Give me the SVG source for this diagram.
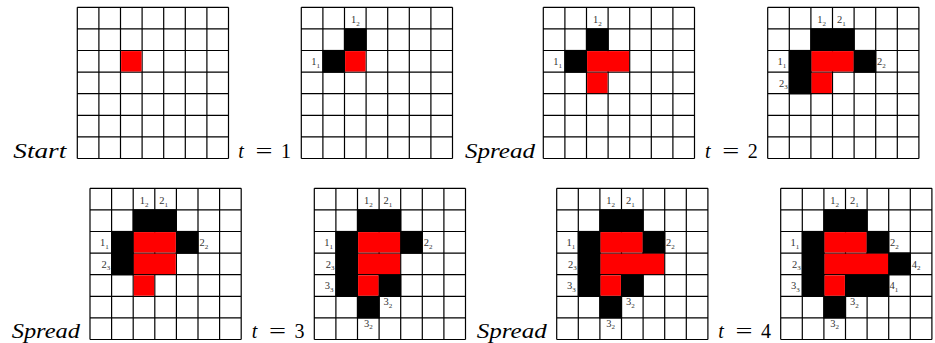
<svg xmlns="http://www.w3.org/2000/svg" xmlns:xlink="http://www.w3.org/1999/xlink" width="935" height="343" viewBox="0 0 935 343">
<style>
.bk{fill:#000}
.rd{fill:#ff0000}
.lb{font-family:"Liberation Serif",serif;font-size:10.5px;fill:#333;text-anchor:middle}
.sub{font-size:7px}
.cap{font-family:"Liberation Serif",serif;font-size:20px;fill:#000}
.it{font-style:italic}
.mid{text-anchor:middle}
</style>
<defs>
<path id="grid" d="M0 0H151.2M0 21.6H151.2M0 43.2H151.2M0 64.8H151.2M0 86.4H151.2M0 108H151.2M0 129.6H151.2M0 151.2H151.2M0 0V151.2M21.6 0V151.2M43.2 0V151.2M64.8 0V151.2M86.4 0V151.2M108 0V151.2M129.6 0V151.2M151.2 0V151.2" fill="none" stroke="#000" stroke-width="1.2"/>
</defs>
<rect width="935" height="343" fill="#fff"/>

<g id="panel-start" transform="translate(77.3,7.3)">
<use href="#grid"/>
<rect class="rd" x="43.8" y="43.8" width="20.4" height="20.4"/>
</g>

<g id="panel-t1" transform="translate(301.3,7.3)">
<use href="#grid"/>
<rect class="bk" x="42.6" y="21" width="22.8" height="22.8"/>
<rect class="bk" x="21" y="42.6" width="22.8" height="22.8"/>
<rect class="rd" x="43.8" y="43.8" width="20.4" height="20.4"/>
<text class="lb" x="54" y="16">1<tspan class="sub" dy="2.5">2</tspan></text>
<text class="lb" x="14.3" y="58">1<tspan class="sub" dy="2.5">1</tspan></text>
</g>

<g id="panel-spread1" transform="translate(543.3,7.3)">
<use href="#grid"/>
<rect class="bk" x="42.6" y="21" width="22.8" height="22.8"/>
<rect class="bk" x="21" y="42.6" width="22.8" height="22.8"/>
<rect class="rd" x="43.8" y="43.8" width="42" height="20.4"/>
<rect class="rd" x="43.8" y="65.4" width="20.4" height="20.4"/>
<text class="lb" x="54" y="16">1<tspan class="sub" dy="2.5">2</tspan></text>
<text class="lb" x="14.3" y="58">1<tspan class="sub" dy="2.5">1</tspan></text>
</g>

<g id="panel-t2" transform="translate(767.7,7.3)">
<use href="#grid"/>
<rect class="bk" x="42.6" y="21" width="44.4" height="22.8"/>
<rect class="bk" x="21" y="42.6" width="22.8" height="44.4"/>
<rect class="bk" x="85.8" y="42.6" width="22.8" height="22.8"/>
<rect class="rd" x="43.8" y="43.8" width="42" height="20.4"/>
<rect class="rd" x="43.8" y="65.4" width="20.4" height="20.4"/>
<text class="lb" x="54" y="16">1<tspan class="sub" dy="2.5">2</tspan></text>
<text class="lb" x="73.6" y="16">2<tspan class="sub" dy="2.5">1</tspan></text>
<text class="lb" x="14.3" y="58">1<tspan class="sub" dy="2.5">1</tspan></text>
<text class="lb" x="113.8" y="58">2<tspan class="sub" dy="2.5">2</tspan></text>
<text class="lb" x="15.8" y="79.6">2<tspan class="sub" dy="2.5">3</tspan></text>
</g>

<g id="panel-spread2" transform="translate(90,188.3)">
<use href="#grid"/>
<rect class="bk" x="42.6" y="21" width="44.4" height="22.8"/>
<rect class="bk" x="21" y="42.6" width="22.8" height="44.4"/>
<rect class="bk" x="85.8" y="42.6" width="22.8" height="22.8"/>
<rect class="rd" x="43.8" y="43.8" width="42" height="20.4"/>
<rect class="rd" x="43.8" y="65.4" width="42" height="20.4"/>
<rect class="rd" x="43.8" y="87" width="20.4" height="20.4"/>
<text class="lb" x="54" y="16">1<tspan class="sub" dy="2.5">2</tspan></text>
<text class="lb" x="73.6" y="16">2<tspan class="sub" dy="2.5">1</tspan></text>
<text class="lb" x="14.3" y="58">1<tspan class="sub" dy="2.5">1</tspan></text>
<text class="lb" x="113.8" y="58">2<tspan class="sub" dy="2.5">2</tspan></text>
<text class="lb" x="15.8" y="79.6">2<tspan class="sub" dy="2.5">3</tspan></text>
</g>

<g id="panel-t3" transform="translate(314.3,188.3)">
<use href="#grid"/>
<rect class="bk" x="42.6" y="21" width="44.4" height="22.8"/>
<rect class="bk" x="21" y="42.6" width="22.8" height="66"/>
<rect class="bk" x="85.8" y="42.6" width="22.8" height="22.8"/>
<rect class="bk" x="64.2" y="85.8" width="22.8" height="22.8"/>
<rect class="bk" x="42.6" y="107.4" width="22.8" height="22.8"/>
<rect class="rd" x="43.8" y="43.8" width="42" height="20.4"/>
<rect class="rd" x="43.8" y="65.4" width="42" height="20.4"/>
<rect class="rd" x="43.8" y="87" width="20.4" height="20.4"/>
<text class="lb" x="54" y="16">1<tspan class="sub" dy="2.5">2</tspan></text>
<text class="lb" x="73.6" y="16">2<tspan class="sub" dy="2.5">1</tspan></text>
<text class="lb" x="14.3" y="58">1<tspan class="sub" dy="2.5">1</tspan></text>
<text class="lb" x="113.8" y="58">2<tspan class="sub" dy="2.5">2</tspan></text>
<text class="lb" x="15.8" y="79.6">2<tspan class="sub" dy="2.5">3</tspan></text>
<text class="lb" x="14.8" y="101.2">3<tspan class="sub" dy="2.5">3</tspan></text>
<text class="lb" x="73.6" y="117">3<tspan class="sub" dy="2.5">2</tspan></text>
<text class="lb" x="54" y="138.4">3<tspan class="sub" dy="2.5">2</tspan></text>
</g>

<g id="panel-spread3" transform="translate(556.7,188.3)">
<use href="#grid"/>
<rect class="bk" x="42.6" y="21" width="44.4" height="22.8"/>
<rect class="bk" x="21" y="42.6" width="22.8" height="66"/>
<rect class="bk" x="85.8" y="42.6" width="22.8" height="22.8"/>
<rect class="bk" x="64.2" y="85.8" width="22.8" height="22.8"/>
<rect class="bk" x="42.6" y="107.4" width="22.8" height="22.8"/>
<rect class="rd" x="43.8" y="43.8" width="42" height="20.4"/>
<rect class="rd" x="43.8" y="65.4" width="63.6" height="20.4"/>
<rect class="rd" x="43.8" y="87" width="20.4" height="20.4"/>
<text class="lb" x="54" y="16">1<tspan class="sub" dy="2.5">2</tspan></text>
<text class="lb" x="73.6" y="16">2<tspan class="sub" dy="2.5">1</tspan></text>
<text class="lb" x="14.3" y="58">1<tspan class="sub" dy="2.5">1</tspan></text>
<text class="lb" x="113.8" y="58">2<tspan class="sub" dy="2.5">2</tspan></text>
<text class="lb" x="15.8" y="79.6">2<tspan class="sub" dy="2.5">3</tspan></text>
<text class="lb" x="14.8" y="101.2">3<tspan class="sub" dy="2.5">3</tspan></text>
<text class="lb" x="73.6" y="117">3<tspan class="sub" dy="2.5">2</tspan></text>
<text class="lb" x="54" y="138.4">3<tspan class="sub" dy="2.5">2</tspan></text>
</g>

<g id="panel-t4" transform="translate(780.7,188.3)">
<use href="#grid"/>
<rect class="bk" x="42.6" y="21" width="44.4" height="22.8"/>
<rect class="bk" x="21" y="42.6" width="22.8" height="66"/>
<rect class="bk" x="85.8" y="42.6" width="22.8" height="22.8"/>
<rect class="bk" x="107.4" y="64.2" width="22.8" height="22.8"/>
<rect class="bk" x="64.2" y="85.8" width="44.4" height="22.8"/>
<rect class="bk" x="42.6" y="107.4" width="22.8" height="22.8"/>
<rect class="rd" x="43.8" y="43.8" width="42" height="20.4"/>
<rect class="rd" x="43.8" y="65.4" width="63.6" height="20.4"/>
<rect class="rd" x="43.8" y="87" width="20.4" height="20.4"/>
<text class="lb" x="54" y="16">1<tspan class="sub" dy="2.5">2</tspan></text>
<text class="lb" x="73.6" y="16">2<tspan class="sub" dy="2.5">1</tspan></text>
<text class="lb" x="14.3" y="58">1<tspan class="sub" dy="2.5">1</tspan></text>
<text class="lb" x="113.8" y="58">2<tspan class="sub" dy="2.5">2</tspan></text>
<text class="lb" x="15.8" y="79.6">2<tspan class="sub" dy="2.5">3</tspan></text>
<text class="lb" x="14.8" y="101.2">3<tspan class="sub" dy="2.5">3</tspan></text>
<text class="lb" x="73.6" y="117">3<tspan class="sub" dy="2.5">2</tspan></text>
<text class="lb" x="54" y="138.4">3<tspan class="sub" dy="2.5">2</tspan></text>
<text class="lb" x="135.4" y="79.6">4<tspan class="sub" dy="2.5">2</tspan></text>
<text class="lb" x="113.1" y="101.2">4<tspan class="sub" dy="2.5">1</tspan></text>
</g>

<g id="captions">
<text class="cap it" x="13.3" y="157.5" textLength="53" lengthAdjust="spacingAndGlyphs">Start</text>
<g id="cap-t1"><text class="cap it" x="238.3" y="157.5">t</text><text class="cap mid" x="264" y="157.5" textLength="17" lengthAdjust="spacingAndGlyphs">=</text><text class="cap mid" x="286" y="157.5">1</text></g>
<text class="cap it" x="465" y="157.5" textLength="70" lengthAdjust="spacingAndGlyphs">Spread</text>
<g id="cap-t2"><text class="cap it" x="705" y="157.5">t</text><text class="cap mid" x="730.7" y="157.5" textLength="17" lengthAdjust="spacingAndGlyphs">=</text><text class="cap mid" x="752.7" y="157.5">2</text></g>
<text class="cap it" x="11.7" y="338" textLength="68.3" lengthAdjust="spacingAndGlyphs">Spread</text>
<g id="cap-t3"><text class="cap it" x="251.7" y="338">t</text><text class="cap mid" x="277.4" y="338" textLength="17" lengthAdjust="spacingAndGlyphs">=</text><text class="cap mid" x="299.4" y="338">3</text></g>
<text class="cap it" x="476.7" y="338" textLength="70" lengthAdjust="spacingAndGlyphs">Spread</text>
<g id="cap-t4"><text class="cap it" x="718.3" y="338">t</text><text class="cap mid" x="744" y="338" textLength="17" lengthAdjust="spacingAndGlyphs">=</text><text class="cap mid" x="766" y="338">4</text></g>
</g>
</svg>
